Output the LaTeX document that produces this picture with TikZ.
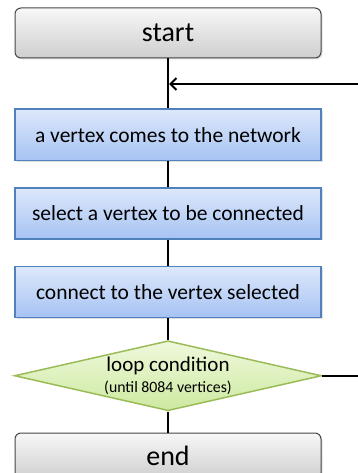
\documentclass[tikz,border=0pt]{standalone}
\usepackage{fontspec}
\setmainfont{Carlito}
\usetikzlibrary{arrows.meta,positioning,shapes.geometric,shadows}

\definecolor{steptop}{HTML}{DDE8FB}
\definecolor{stepbot}{HTML}{A6C3F3}
\definecolor{stepedge}{HTML}{4F81BD}
\definecolor{condtop}{HTML}{EFF9DC}
\definecolor{condbot}{HTML}{CDE9A0}
\definecolor{condedge}{HTML}{9BBB59}

\begin{document}
\begin{tikzpicture}[
  x=1pt, y=-1pt,
  node distance=26pt,
  soft/.style={drop shadow={shadow xshift=1.5pt, shadow yshift=-1.5pt, opacity=.25}},
  terminal/.style={draw=gray!55!black, line width=1pt, rounded corners=6pt, top color=gray!6, bottom color=gray!38, minimum width=306pt, minimum height=50pt, font=\fontsize{28}{30}\selectfont, soft},
  stepbox/.style={draw=stepedge, line width=1.5pt, top color=steptop, bottom color=stepbot, minimum width=306pt, minimum height=51pt, font=\fontsize{21.5}{24}\selectfont, soft},
  decision/.style={diamond, draw=condedge, line width=1.5pt, top color=condtop, bottom color=condbot, shape aspect=4.6, inner xsep=0pt, inner ysep=-8pt, minimum width=307pt, minimum height=70pt, align=center, font=\fontsize{21}{23}\selectfont},
  line/.style={line width=2pt},
  arr/.style={-{Straight Barb[length=6pt,width=12pt]}, line width=2pt}
]
\useasboundingbox (0,0) rectangle (358,473);
\clip (0,0) rectangle (358,473);

\node[terminal] (start) at (168,33) {start};
\node[stepbox, below=50pt of start] (arrive) {a vertex comes to the network};
\node[stepbox, below=of arrive] (pick) {select a vertex to be connected};
\node[stepbox, below=of pick] (link) {connect to the vertex selected};
\node[decision, below=22pt of link] (cond) {loop condition\\[-2pt]{\fontsize{15.8}{18}\selectfont(until 8084 vertices)}};
\node[terminal, below=21pt of cond, minimum height=46pt] (end) {end};

% loop back into the main line
\coordinate (turn) at (366,84);
\coordinate (join) at (169,84);

\draw[line] (start) -- (arrive);
\draw[line] (arrive) -- (pick);
\draw[line] (pick) -- (link);
\draw[line] (link) -- (cond);
\draw[line] (cond) -- (end);
\draw[arr] (cond.east) -| (turn) -- (join);
\end{tikzpicture}
\end{document}
